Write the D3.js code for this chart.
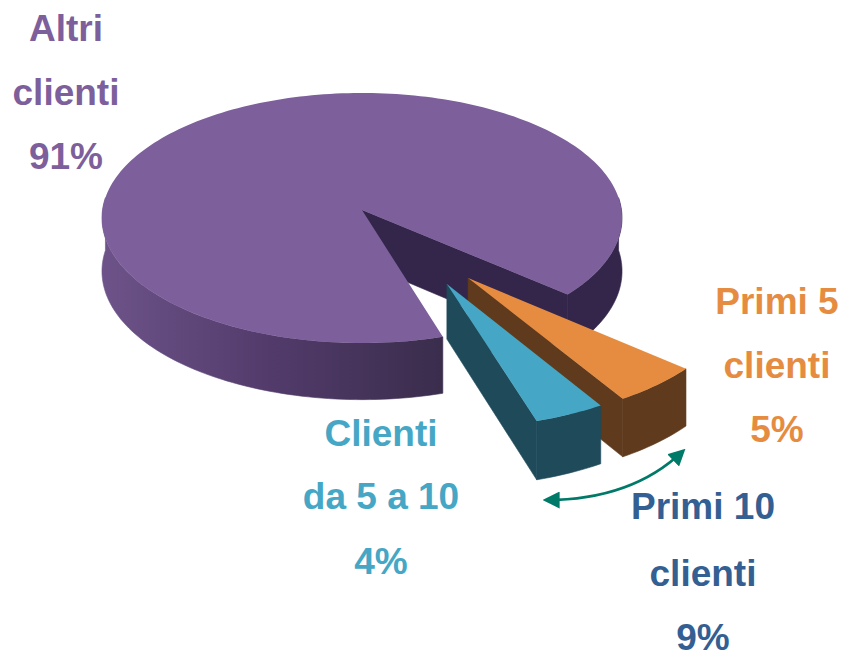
<!DOCTYPE html>
<html>
<head>
<meta charset="utf-8">
<script src="https://cdn.jsdelivr.net/npm/d3@7"></script>
<style>
    html, body { margin: 0; padding: 0; background: white; }
    text { font-family: "Liberation Sans", Arial, sans-serif; font-weight: bold; font-size: 37px; text-anchor: middle; }
</style>
</head>
<body>
<svg id="canvas" width="842" height="653"></svg>
<script>
const sliceNames = ["Altri clienti", "Primi 5 clienti", "Clienti da 5 a 10"];
const sliceValues = [91, 5, 4];
const topColors = ["#7d5f9c", "#e68c41", "#45a7c5"];
const sideColors = ["#33264a", "#5f3a1c", "#1e4a5a"];
// how far each slice is pulled out of the pie (pie radius = 1)
const explodeX = [0, 0.395, 0.315];
const explodeY = [0, 0.528, 0.573];
const startDegrees = 163;

const labelLines = [
    ["Altri", "clienti", "91%"],
    ["Primi 5", "clienti", "5%"],
    ["Clienti", "da 5 a 10", "4%"],
    ["Primi 10", "clienti", "9%"]
];
const labelColors = ["#7d5f9c", "#e68c41", "#45a7c5", "#335f92"];
const labelX = [66, 777, 381, 703];
const labelY = [[41, 105, 169], [314, 378, 442], [446, 509, 574], [519, 586, 650]];

// pie is a flat disc seen in perspective, so the far half looks squashed
const centerX = 362, centerY = 210;
const radiusX = 259.5, radiusY = 124.5, tilt = 0.064, depth = 53;

function project(x, y, z){
    let w = 1 - tilt * y;
    return [centerX + radiusX * x / w, centerY + (radiusY * y + depth * z) / w];
}

// angle is clockwise from the back of the pie, like d3.pie
function rim(angle, i, z){
    return project(explodeX[i] + Math.sin(angle), explodeY[i] - Math.cos(angle), z);
}

function rimPoints(a0, a1, i, z){
    let n = Math.ceil(Math.abs(a1 - a0) * 40) + 1;
    return d3.range(n + 1).map(k => rim(a0 + (a1 - a0) * k / n, i, z));
}

let line = d3.line();

let slices = d3.pie()
    .sort(null)
    .startAngle(startDegrees * Math.PI / 180)
    .endAngle((startDegrees + 360) * Math.PI / 180)(sliceValues);

let svg = d3.select('#canvas');

//side of the big slice goes dark towards the cut
let defs = svg.append('defs');
let leftGrad = defs.append('linearGradient').attr('id', 'leftSide')
    .attr('gradientUnits', 'userSpaceOnUse')
    .attr('x1', 100).attr('x2', 443).attr('y1', 0).attr('y2', 0);
leftGrad.append('stop').attr('offset', 0).attr('stop-color', '#6d5389');
leftGrad.append('stop').attr('offset', 0.5).attr('stop-color', '#523b6b');
leftGrad.append('stop').attr('offset', 1).attr('stop-color', '#3a2d4c');

function wall(pointsTop, pointsBottom, fill){
    svg.append('path')
        .attr('d', line(pointsTop.concat(pointsBottom.reverse())) + 'Z')
        .attr('fill', fill)
        .attr('stroke', fill)
        .attr('stroke-width', 0.6);
}

function edgeWall(angle, i, fill){
    let apexTop = project(explodeX[i], explodeY[i], 0);
    let apexBottom = project(explodeX[i], explodeY[i], 1);
    wall([apexTop, rim(angle, i, 0)], [apexBottom, rim(angle, i, 1)], fill);
}

//big slice: walls first, then the top over them
let big = slices[0];
edgeWall(big.endAngle, 0, sideColors[0]);
let quarter = Math.PI / 2;
let rightStart = big.endAngle - Math.PI * 2;
wall(rimPoints(quarter - 0.1, rightStart, 0, 0), rimPoints(quarter - 0.1, rightStart, 0, 1), sideColors[0]);
wall(rimPoints(big.startAngle, 3 * quarter + 0.1, 0, 0), rimPoints(big.startAngle, 3 * quarter + 0.1, 0, 1), 'url(#leftSide)');

function drawTop(d, i){
    let apex = project(explodeX[i], explodeY[i], 0);
    svg.append('path')
        .attr('d', line([apex].concat(rimPoints(d.startAngle, d.endAngle, i, 0))) + 'Z')
        .attr('fill', topColors[i]);
}
drawTop(big, 0);

//pulled out slices, orange behind blue
[1, 2].forEach(i => {
    let d = slices[i];
    let a0 = d.startAngle % (Math.PI * 2);
    let a1 = d.endAngle % (Math.PI * 2);
    edgeWall(a1, i, sideColors[i]);
    wall(rimPoints(a0, a1, i, 0), rimPoints(a0, a1, i, 1), sideColors[i]);
    drawTop({startAngle: a0, endAngle: a1}, i);
});

//double arrow that spans the two pulled out slices
const arrowColor = '#007a68';
defs.append('marker').attr('id', 'head')
    .attr('viewBox', '0 0 10 10').attr('refX', 8).attr('refY', 5)
    .attr('markerWidth', 17).attr('markerHeight', 17)
    .attr('markerUnits', 'userSpaceOnUse')
    .attr('orient', 'auto-start-reverse')
    .append('path').attr('d', 'M0,0L10,5L0,10Z').attr('fill', arrowColor);

let arrow = d3.path();
arrow.moveTo(546, 500);
arrow.quadraticCurveTo(632, 500, 683, 451);
svg.append('path')
    .attr('d', arrow.toString())
    .attr('fill', 'none')
    .attr('stroke', arrowColor)
    .attr('stroke-width', 2.6)
    .attr('marker-start', 'url(#head)')
    .attr('marker-end', 'url(#head)');

labelLines.forEach((lines, i) => {
    svg.selectAll(null)
        .data(lines)
        .join('text')
        .attr('x', labelX[i])
        .attr('y', (d, j) => labelY[i][j])
        .attr('fill', labelColors[i])
        .text(d => d);
});
</script>
</body>
</html>
